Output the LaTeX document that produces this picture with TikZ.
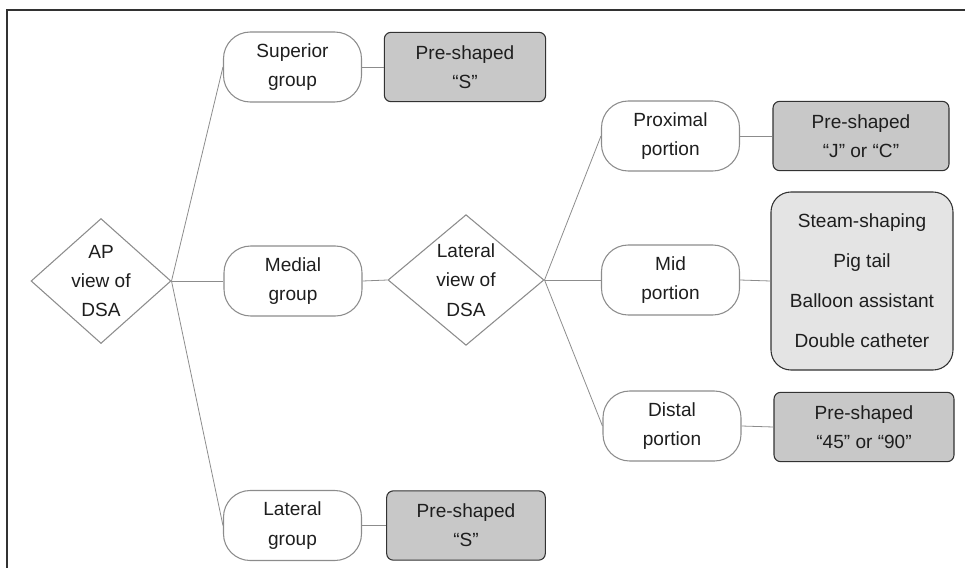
\documentclass[tikz,border=0pt]{standalone}
\usepackage{fontspec}
\setmainfont{Liberation Sans}
\definecolor{linegray}{RGB}{140, 140, 140}
\definecolor{darkedge}{RGB}{50, 50, 50}
\definecolor{shapefill}{RGB}{200, 200, 200}
\definecolor{optfill}{RGB}{228, 228, 228}
\definecolor{txtgray}{RGB}{30, 30, 30}
\usetikzlibrary{shapes.geometric, positioning}
\tikzset{
  view/.style={draw=linegray, thick, diamond, aspect=1.12, inner sep=0pt, align=center, text=txtgray},
  region/.style={draw=linegray, thick, rounded corners=20pt, minimum width=103.5pt, minimum height=52.5pt, align=center, inner sep=2pt, text=txtgray},
  shaped/.style={draw=darkedge, thick, fill=shapefill, rounded corners=5pt, minimum height=52pt, align=center, inner sep=2pt, text=txtgray},
  link/.style={draw=linegray, semithick}
}
\begin{document}
\begin{tikzpicture}[x=0.75pt, y=-0.75pt, font=\fontsize{14.3}{22}\selectfont]
  \useasboundingbox (0,0) rectangle (965,568);
  % Frame
  \draw[darkedge, line width=1.1pt] (7,568) -- (7,10) -- (965,10);

  % Views
  \node[view, minimum width=103.5pt, minimum height=92.25pt] (ap) at (101,281) {AP\\view of\\DSA};
  \node[view, minimum width=117pt, minimum height=98pt] (lat) at (466,280) {Lateral\\view of\\DSA};

  % Groups
  \node[region] (sup) at (292.5,67) {Superior\\group};
  \node[region] (med) at (293,281) {Medial\\group};
  \node[region] (latg) at (292.5,525.5) {Lateral\\group};

  % Portions
  \node[region] (prox) at (670.5,136) {Proximal\\portion};
  \node[region] (mid) at (670.5,280) {Mid\\portion};
  \node[region] (dist) at (672,426) {Distal\\portion};

  % Catheter shapes
  \node[shaped, minimum width=121pt] (supS) at (465,67) {Pre-shaped\\``S''};
  \node[shaped, minimum width=119pt] (latS) at (466,525.5) {Pre-shaped\\``S''};
  \node[shaped, minimum width=132pt] (proxJC) at (861,136) {Pre-shaped\\``J'' or ``C''};
  \node[shaped, minimum width=135pt] (dist90) at (864,427) {Pre-shaped\\``45'' or ``90''};
  \node[shaped, fill=optfill, rounded corners=15pt, minimum width=136.5pt, minimum height=133.5pt, font=\fontsize{14.3}{30}\selectfont] (midopt) at (862,281) {Steam-shaping\\Pig tail\\Balloon assistant\\Double catheter};

  % Links
  \draw[link] (ap.east) -- (sup.west);
  \draw[link] (ap.east) -- (med.west);
  \draw[link] (ap.east) -- (latg.west);
  \draw[link] (med.east) -- (lat.west);
  \draw[link] (lat.east) -- (prox.west);
  \draw[link] (lat.east) -- (mid.west);
  \draw[link] (lat.east) -- (dist.west);
  \draw[link] (sup.east) -- (supS.west);
  \draw[link] (latg.east) -- (latS.west);
  \draw[link] (prox.east) -- (proxJC.west);
  \draw[link] (mid.east) -- (midopt.west);
  \draw[link] (dist.east) -- (dist90.west);
\end{tikzpicture}
\end{document}
